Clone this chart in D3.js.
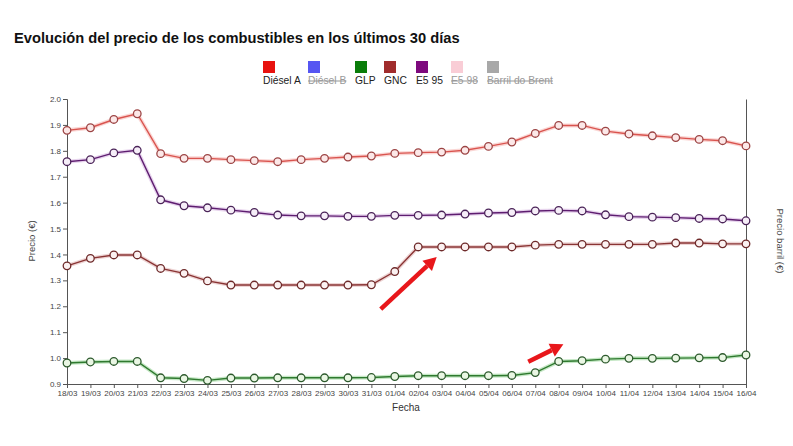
<!DOCTYPE html>
<html>
<head>
<meta charset="utf-8">
<script src="https://cdn.jsdelivr.net/npm/d3@7"></script>
<style>
  body { margin: 0; background: #fff; }
  svg { font-family: "Liberation Sans", Arial, sans-serif; }
  .axis text { font-size: 8px; fill: #444; }
  .axis path, .axis line { stroke: #555; }
</style>
</head>
<body>
<div id="vis-container"></div>
<script>
"use strict";

// Dates on the x axis
const fechas = ["18/03", "19/03", "20/03", "21/03", "22/03", "23/03", "24/03", "25/03", "26/03", "27/03",
    "28/03", "29/03", "30/03", "31/03", "01/04", "02/04", "03/04", "04/04", "05/04", "06/04",
    "07/04", "08/04", "09/04", "10/04", "11/04", "12/04", "13/04", "14/04", "15/04", "16/04"];

// Prices per fuel (€)
const dieselA = [1.879, 1.889, 1.921, 1.943, 1.789, 1.771, 1.771, 1.766, 1.762, 1.758,
    1.766, 1.771, 1.776, 1.780, 1.790, 1.793, 1.795, 1.802, 1.817, 1.834,
    1.867, 1.898, 1.898, 1.876, 1.865, 1.858, 1.851, 1.844, 1.839, 1.819];

const e595 = [1.758, 1.766, 1.792, 1.802, 1.611, 1.588, 1.580, 1.571, 1.562, 1.552,
    1.549, 1.549, 1.547, 1.547, 1.551, 1.551, 1.552, 1.556, 1.560, 1.562,
    1.568, 1.570, 1.568, 1.553, 1.546, 1.544, 1.542, 1.539, 1.537, 1.530];

const gnc = [1.356, 1.385, 1.398, 1.398, 1.346, 1.327, 1.298, 1.282, 1.282, 1.282,
    1.282, 1.282, 1.282, 1.283, 1.334, 1.429, 1.429, 1.429, 1.429, 1.429,
    1.436, 1.439, 1.439, 1.439, 1.439, 1.439, 1.444, 1.444, 1.441, 1.441];

const glp = [0.981, 0.985, 0.987, 0.987, 0.924, 0.921, 0.914, 0.923, 0.923, 0.924,
    0.924, 0.924, 0.924, 0.925, 0.929, 0.932, 0.932, 0.932, 0.932, 0.933,
    0.944, 0.987, 0.990, 0.996, 0.999, 0.999, 1.000, 1.001, 1.002, 1.012];

// Legend entries (active = drawn)
const leyenda = ["Diésel A", "Diésel B", "GLP", "GNC", "E5 95", "E5 98", "Barril do Brent"];
const leyendaActiva = [true, false, true, true, true, false, false];

const yTicks = [0.9, 1.0, 1.1, 1.2, 1.3, 1.4, 1.5, 1.6, 1.7, 1.8, 1.9, 2.0];

// Red annotation arrows, in data units: [index from, value from, index to, value to]
const flechas = [
    [13.40, 1.189, 15.79, 1.390],
    [19.70, 0.986, 21.20, 1.053]
];

function mainIndex()
{
    const width = 793;
    const height = 446;

    const legendColors = ["#e8120f", "#5656f2", "#0a7d0a", "#a02c2c", "#7d0a7d", "#f9cdd6", "#a8a8a8"];

    const series = [
        { name: "GLP", values: glp, line: "#2f7a2f", halo: "#7fc97f", dot: "#2d5a2d", fill: "#eaf7e4" },
        { name: "GNC", values: gnc, line: "#8a3434", halo: "#d7a0a0", dot: "#6e2a2a", fill: "#fbf1f1" },
        { name: "E5 95", values: e595, line: "#5e1d70", halo: "#c9a0d8", dot: "#4a2358", fill: "#f6eef8" },
        { name: "Diésel A", values: dieselA, line: "#d9544f", halo: "#f4a3a0", dot: "#9c4444", fill: "#fce8e8" }
    ];

    const x = d3.scalePoint().domain(fechas).range([67, 746]);
    const xi = d3.scaleLinear().domain([0, fechas.length - 1]).range([67, 746]);
    const y = d3.scaleLinear().domain([0.9, 2.0]).range([384, 99]);

    const svg = d3.select("#vis-container")
        .append("svg")
        .attr("width", width)
        .attr("height", height);

    // Title
    svg.append("text")
        .attr("x", 14)
        .attr("y", 43)
        .style("font-size", "14.7px")
        .style("font-weight", "bold")
        .style("fill", "#111")
        .text("Evolución del precio de los combustibles en los últimos 30 días");

    // Legend
    const legendX = [263, 308, 355, 384, 416, 451, 487];
    const legend = svg.append("g")
        .selectAll("g")
        .data(leyenda)
        .enter()
        .append("g")
        .attr("transform", (d, i) => `translate(${legendX[i]},61)`);

    legend.append("rect")
        .attr("width", 12)
        .attr("height", 12)
        .style("fill", (d, i) => legendColors[i]);

    legend.append("text")
        .attr("x", 0)
        .attr("y", 23)
        .style("font-size", "10.3px")
        .style("fill", (d, i) => leyendaActiva[i] ? "#222" : "#999")
        .style("text-decoration", (d, i) => leyendaActiva[i] ? "none" : "line-through")
        .text(d => d);

    // Axes
    const xAxis = d3.axisBottom(x).tickSize(4).tickPadding(2);
    const yAxis = d3.axisLeft(y).tickValues(yTicks).tickFormat(d3.format(".1f")).tickSize(4).tickPadding(2);

    svg.append("g")
        .attr("class", "axis")
        .attr("transform", "translate(0,384)")
        .call(xAxis);

    svg.append("g")
        .attr("class", "axis")
        .attr("transform", "translate(67,0)")
        .call(yAxis);

    // Right axis (barrel price), no ticks
    svg.append("g")
        .attr("class", "axis")
        .attr("transform", "translate(746,0)")
        .call(d3.axisRight(y).tickValues([]).tickSizeOuter(0));

    svg.append("text")
        .attr("transform", "rotate(-90)")
        .attr("x", -241)
        .attr("y", 35)
        .style("font-size", "9.5px")
        .style("fill", "#444")
        .style("text-anchor", "middle")
        .text("Precio (€)");

    svg.append("text")
        .attr("transform", "rotate(90)")
        .attr("x", 241)
        .attr("y", -777)
        .style("font-size", "9.5px")
        .style("fill", "#444")
        .style("text-anchor", "middle")
        .text("Precio barril (€)");

    svg.append("text")
        .attr("x", 406)
        .attr("y", 411)
        .style("font-size", "10px")
        .style("fill", "#333")
        .style("text-anchor", "middle")
        .text("Fecha");

    // Lines and dots
    const line = d3.line()
        .x((d, i) => x(fechas[i]))
        .y(d => y(d));

    const groups = svg.append("g")
        .selectAll("g")
        .data(series)
        .enter()
        .append("g");

    groups.append("path")
        .attr("d", d => line(d.values))
        .style("fill", "none")
        .style("stroke", d => d.halo)
        .style("stroke-width", 4)
        .style("stroke-opacity", 0.45);

    groups.append("path")
        .attr("d", d => line(d.values))
        .style("fill", "none")
        .style("stroke", d => d.line)
        .style("stroke-width", 1.4);

    groups.each(function (s) {
        d3.select(this)
            .selectAll("circle")
            .data(s.values)
            .enter()
            .append("circle")
            .attr("cx", (d, i) => x(fechas[i]))
            .attr("cy", d => y(d))
            .attr("r", 3.8)
            .style("fill", s.fill)
            .style("stroke", s.dot)
            .style("stroke-width", 1.3);
    });

    // Annotation arrows
    const arrows = svg.append("g");
    flechas.forEach(f => {
        const x1 = xi(f[0]), y1 = y(f[1]), x2 = xi(f[2]), y2 = y(f[3]);
        const ang = Math.atan2(y2 - y1, x2 - x1);
        const headLen = 13, headW = 7;
        const bx = x2 - headLen * Math.cos(ang), by = y2 - headLen * Math.sin(ang);
        arrows.append("line")
            .attr("x1", x1).attr("y1", y1)
            .attr("x2", bx).attr("y2", by)
            .style("stroke", "#e8171b")
            .style("stroke-width", 4.5);
        arrows.append("path")
            .attr("d", `M${x2},${y2}L${bx + headW * Math.sin(ang)},${by - headW * Math.cos(ang)}L${bx - headW * Math.sin(ang)},${by + headW * Math.cos(ang)}Z`)
            .style("fill", "#e8171b");
    });
}

document.addEventListener("DOMContentLoaded", mainIndex);
</script>
</body>
</html>
